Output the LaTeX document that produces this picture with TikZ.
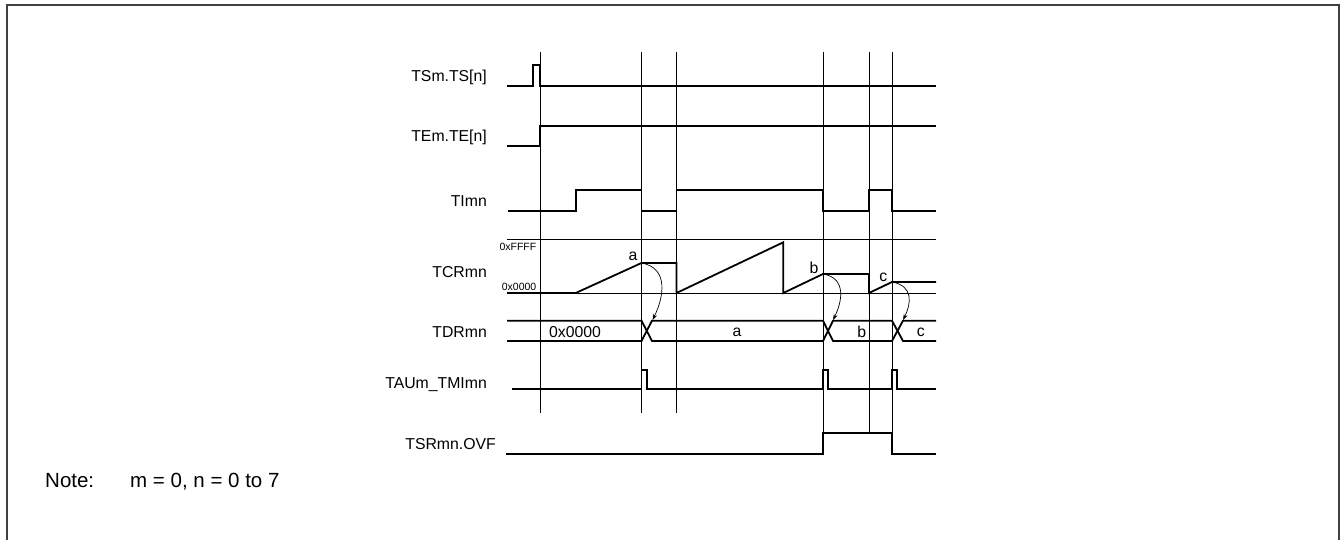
\documentclass[tikz,border=0pt]{standalone}
\usepackage{fontspec}
\setmainfont{Liberation Sans}
\usetikzlibrary{positioning}
\usetikzlibrary{calc}
\usetikzlibrary{arrows.meta}

\tikzset{
    wave/.style={line width=1.8pt, line join=miter},
    guide/.style={line width=0.9pt},
    siglabel/.style={anchor=base east, inner sep=0pt, font=\fontsize{15.8}{18}\selectfont},
    vallabel/.style={anchor=base, inner sep=0pt, font=\fontsize{15.8}{18}\selectfont},
    scalelabel/.style={anchor=base east, inner sep=0pt, font=\fontsize{10.5}{12}\selectfont},
    notelabel/.style={anchor=base west, inner sep=0pt, font=\fontsize{20.5}{24}\selectfont},
    loadarrow/.style={line width=0.7pt, -{Stealth[length=6pt,width=4pt]}},
}

\begin{document}
\begin{tikzpicture}[x=1pt, y=-1pt]
    \useasboundingbox (0,0) rectangle (1340,540);
    \draw[line width=2pt, black!75] (7,545) -- (7,5) -- (1339,5) -- (1339,545);

    % signal names
    \node[siglabel] (ts) at (487,81.7) {TSm.TS[n]};
    \node[siglabel] (te) at (487,141.7) {TEm.TE[n]};
    \node[siglabel] (ti) at (487,206.7) {TImn};
    \node[siglabel] (tcr) at (487,277.3) {TCRmn};
    \node[siglabel] (tdr) at (487,337.3) {TDRmn};
    \node[siglabel] (tmi) at (487,388.7) {TAUm\_TMImn};
    \node[siglabel] (ovf) at (496,449.3) {TSRmn.OVF};

    % time marks
    \foreach \x/\yb in {540/413, 641.5/413, 676.5/413, 823/454, 869/433, 892/454}
        \draw[guide] (\x,52) -- (\x,\yb);

    % counter range
    \draw[guide] (507,239) -- (936,239);
    \draw[guide] (507,293) -- (936,293);
    \node[scalelabel] (ffff) at (536.5,250) {0xFFFF};
    \node[scalelabel] (zero) at (536.5,290.5) {0x0000};

    % waveforms
    \draw[wave] (507,85.7) -- (533,85.7) -- (533,65) -- (539.5,65) -- (539.5,85.7) -- (936,85.7);
    \draw[wave] (507,146) -- (540,146) -- (540,125.7) -- (936,125.7);
    \draw[wave] (508,210.7) -- (575.7,210.7) -- (575.7,190.3) -- (641.5,190.3) -- (641.5,210.7)
        -- (676.5,210.7) -- (676.5,190.3) -- (823,190.3) -- (823,210.7) -- (869,210.7)
        -- (869,190.3) -- (892,190.3) -- (892,210.7) -- (936,210.7);
    \draw[wave] (507,293) -- (575.7,293) -- (641.5,263) -- (676.5,263) -- (676.5,293)
        -- (783.3,242.3) -- (783.3,293) -- (823,274) -- (869,274) -- (869,293)
        -- (892,282) -- (936,282);
    \draw[wave] (507,320.7) -- (641.5,320.7) -- (652,341) -- (823,341) -- (833,320.7)
        -- (892,320.7) -- (903,341) -- (936,341);
    \draw[wave] (507,341) -- (641.5,341) -- (652,320.7) -- (823,320.7) -- (833,341)
        -- (892,341) -- (903,320.7) -- (936,320.7);
    \draw[wave] (512,388.7) -- (641.5,388.7) -- (641.5,370) -- (647,370) -- (647,388.7)
        -- (823,388.7) -- (823,370) -- (828,370) -- (828,388.7) -- (892,388.7)
        -- (892,370) -- (897,370) -- (897,388.7) -- (936,388.7);
    \draw[wave] (506,454) -- (823,454) -- (823,433) -- (892,433) -- (892,454) -- (936,454);

    % captured values
    \node[vallabel] (capa) at (633,260) {a};
    \node[vallabel] (capb) at (814,273.3) {b};
    \node[vallabel] (capc) at (883.3,281) {c};
    \node[vallabel] (reg0) at (575,337.3) {0x0000};
    \node[vallabel] (rega) at (737,336.5) {a};
    \node[vallabel] (regb) at (861.7,337) {b};
    \node[vallabel] (regc) at (920.7,336.5) {c};

    \coordinate (ca) at (641.5,263);
    \coordinate (cb) at (823,274);
    \coordinate (cc) at (892,282);
    \coordinate (da) at (652.5,320);
    \coordinate (db) at (833,320);
    \coordinate (dc) at (903,320);
    \draw[loadarrow] (ca) .. controls +(28,5) and +(11,-22) .. (da);
    \draw[loadarrow] (cb) .. controls +(24,4) and +(9,-18) .. (db);
    \draw[loadarrow] (cc) .. controls +(22,4) and +(8,-16) .. (dc);

    \node[notelabel] (note) at (45,487.7) {Note:};
    \node[notelabel] (notetext) at (130,487.7) {m = 0, n = 0 to 7};
\end{tikzpicture}
\end{document}
